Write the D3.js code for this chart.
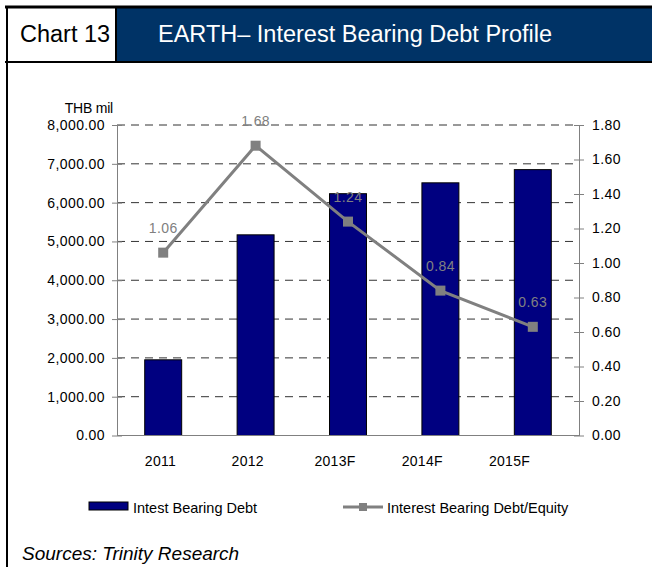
<!DOCTYPE html>
<html>
<head>
<meta charset="utf-8">
<script src="https://cdn.jsdelivr.net/npm/d3@7"></script>
<style>
  body { margin: 0; background: #fff; }
  svg { display: block; font-family: "Liberation Sans", Arial, sans-serif; }
</style>
</head>
<body>
<div id="chart"></div>
<script>
var categories = ["2011", "2012", "2013F", "2014F", "2015F"];
var debtValues = [1950, 5170, 6230, 6510, 6850];
var ratioValues = [1.06, 1.68, 1.24, 0.84, 0.63];
var leftTicks = [0, 1000, 2000, 3000, 4000, 5000, 6000, 7000, 8000];
var rightTicks = [0, 0.2, 0.4, 0.6, 0.8, 1.0, 1.2, 1.4, 1.6, 1.8];

var W = 652, H = 567;
var plot = { left: 117, right: 579, top: 125, bottom: 435.5 };

var svg = d3.select("#chart").append("svg")
  .attr("width", W).attr("height", H);

// header frame
svg.append("rect").attr("x", 117).attr("y", 7).attr("width", W - 117).attr("height", 55)
  .attr("fill", "#003366");
svg.append("line").attr("x1", 5).attr("x2", W).attr("y1", 7).attr("y2", 7)
  .attr("stroke", "#000").attr("stroke-width", 3);
svg.append("line").attr("x1", 5).attr("x2", W).attr("y1", 62).attr("y2", 62)
  .attr("stroke", "#000").attr("stroke-width", 2);
svg.append("line").attr("x1", 7).attr("x2", 7).attr("y1", 6).attr("y2", H)
  .attr("stroke", "#000").attr("stroke-width", 2);
svg.append("line").attr("x1", 116).attr("x2", 116).attr("y1", 7).attr("y2", 62)
  .attr("stroke", "#000").attr("stroke-width", 2);

svg.append("text").attr("x", 20).attr("y", 42).attr("font-size", 23.5)
  .attr("fill", "#000").text("Chart 13");
svg.append("text").attr("x", 158).attr("y", 42).attr("font-size", 23.5)
  .attr("fill", "#fff").text("EARTH\u2013 Interest Bearing Debt Profile");

// scales
var x = d3.scaleBand().domain(categories).range([plot.left, plot.right]).paddingInner(0.6).paddingOuter(0.3);
var xc = function(d) { return x(d) + x.bandwidth() / 2; };
// category labels sit on a slightly tighter spacing than the bars
var xLabel = d3.scalePoint().domain(categories).range([plot.left + 43, plot.right - 70]);
var yL = d3.scaleLinear().domain([0, 8000]).range([plot.bottom, plot.top]);
var yR = d3.scaleLinear().domain([0, 1.8]).range([plot.bottom, plot.top]);

// gridlines
svg.append("g").selectAll("line").data(leftTicks.slice(1)).enter().append("line")
  .attr("x1", plot.left).attr("x2", plot.right)
  .attr("y1", function(d) { return yL(d); }).attr("y2", function(d) { return yL(d); })
  .attr("stroke", "#333").attr("stroke-dasharray", "8,6");

// bars
svg.append("g").selectAll("rect").data(debtValues).enter().append("rect")
  .attr("x", function(d, i) { return x(categories[i]); })
  .attr("width", x.bandwidth())
  .attr("y", function(d) { return yL(d); })
  .attr("height", function(d) { return plot.bottom - yL(d); })
  .attr("fill", "#000080").attr("stroke", "#000").attr("stroke-width", 1);

// axes
var leftAxis = d3.axisLeft(yL).tickValues(leftTicks).tickSize(0)
  .tickFormat(d3.format(",.2f"));
var gL = svg.append("g").attr("transform", "translate(" + plot.left + ",0)").call(leftAxis);
gL.select(".domain").attr("stroke", "#808080");
gL.selectAll(".tick line").attr("x1", -5).attr("x2", 5).attr("stroke", "#808080");
gL.selectAll(".tick text").attr("x", -12).attr("font-size", 14).attr("fill", "#000")
  .attr("font-family", "Liberation Sans, Arial, sans-serif").attr("letter-spacing", 0.4);

var rightAxis = d3.axisRight(yR).tickValues(rightTicks).tickSize(0)
  .tickFormat(d3.format(".2f"));
var gR = svg.append("g").attr("transform", "translate(" + plot.right + ",0)").call(rightAxis);
gR.select(".domain").attr("stroke", "#808080");
gR.selectAll(".tick line").attr("x1", -5).attr("x2", 5).attr("stroke", "#808080");
gR.selectAll(".tick text").attr("x", 13).attr("font-size", 14).attr("fill", "#000")
  .attr("font-family", "Liberation Sans, Arial, sans-serif").attr("letter-spacing", 0.4);

var bottomAxis = d3.axisBottom(xLabel).tickSize(0).tickPadding(0);
var gB = svg.append("g").attr("transform", "translate(0," + plot.bottom + ")").call(bottomAxis);
gB.select(".domain").attr("stroke", "#808080").attr("d", "M" + plot.left + ",0H" + plot.right);
gB.selectAll(".tick text").attr("dy", 0).attr("y", 30).attr("font-size", 14).attr("fill", "#000")
  .attr("font-family", "Liberation Sans, Arial, sans-serif").attr("letter-spacing", 0.3);

svg.append("text").attr("x", 113).attr("y", 113).attr("text-anchor", "end")
  .attr("font-size", 14).attr("letter-spacing", -0.2).text("THB mil");

// ratio line
var line = d3.line().x(function(d, i) { return xc(categories[i]); }).y(function(d) { return yR(d); });
svg.append("path").datum(ratioValues).attr("d", line)
  .attr("fill", "none").attr("stroke", "#808080").attr("stroke-width", 3);
svg.append("g").selectAll("rect").data(ratioValues).enter().append("rect")
  .attr("x", function(d, i) { return xc(categories[i]) - 5; })
  .attr("y", function(d) { return yR(d) - 5; })
  .attr("width", 10).attr("height", 10).attr("fill", "#808080");
svg.append("g").selectAll("text").data(ratioValues).enter().append("text")
  .attr("x", function(d, i) { return xc(categories[i]); })
  .attr("y", function(d) { return yR(d) - 20; })
  .attr("text-anchor", "middle").attr("font-size", 14).attr("fill", "#808080")
  .attr("letter-spacing", 0.4)
  .text(function(d) { return d.toFixed(2); });

// legend
svg.append("rect").attr("x", 89).attr("y", 502).attr("width", 39).attr("height", 8)
  .attr("fill", "#000080").attr("stroke", "#000").attr("stroke-width", 1);
svg.append("text").attr("x", 133).attr("y", 513).attr("font-size", 14.5)
  .text("Intest Bearing Debt");
svg.append("line").attr("x1", 343).attr("x2", 383).attr("y1", 507).attr("y2", 507)
  .attr("stroke", "#808080").attr("stroke-width", 3);
svg.append("rect").attr("x", 359).attr("y", 503).attr("width", 8).attr("height", 8)
  .attr("fill", "#808080");
svg.append("text").attr("x", 387).attr("y", 513).attr("font-size", 14.5)
  .text("Interest Bearing Debt/Equity");

svg.append("text").attr("x", 22).attr("y", 560).attr("font-size", 19)
  .attr("font-style", "italic").text("Sources: Trinity Research");
</script>
</body>
</html>
